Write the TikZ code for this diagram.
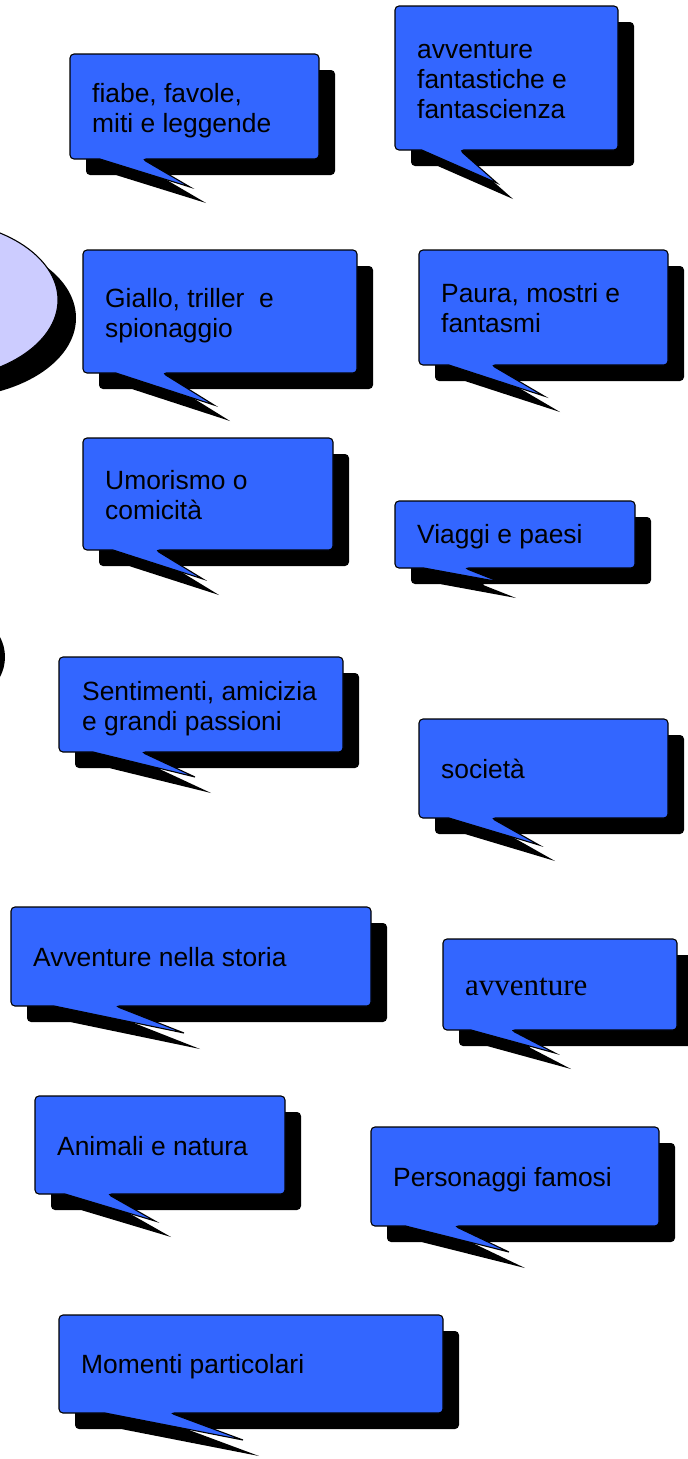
\documentclass[tikz,border=0pt]{standalone}
\usepackage{fontspec}
\setmainfont{Liberation Sans}
\newfontfamily\timesfont{Liberation Serif}
\usepackage{tikz}
\tikzset{>=latex}
\definecolor{bubbleblue}{RGB}{51,102,255}
\definecolor{cloudlilac}{RGB}{204,204,255}
\tikzset{
  bubbletext/.style={anchor=base west, align=left, inner sep=0pt,
    font=\fontsize{26.4}{30}\selectfont},
  bubbleline/.style={draw=black, line width=1.1pt, fill=bubbleblue},
}
% callout: x1 y1 x2 y2 tipx tipy
\newcommand{\bubble}[6]{%
  \pgfmathsetmacro{\tailL}{#1+0.12*(#3-#1)}%
  \pgfmathsetmacro{\tailR}{#1+0.29*(#3-#1)}%
  \fill[black, shift={(16,16)}] (#1,{(#2+#4)/2}) [rounded corners=4] -- (#1,#2) -- (#3,#2) -- (#3,#4)
    -- (\tailR,#4) [sharp corners] -- (#5,#6) -- (\tailL,#4) [rounded corners=4] -- (#1,#4) -- cycle;
  \path[bubbleline] (#1,{(#2+#4)/2}) [rounded corners=4] -- (#1,#2) -- (#3,#2) -- (#3,#4)
    -- (\tailR,#4) [sharp corners] -- (#5,#6) -- (\tailL,#4) [rounded corners=4] -- (#1,#4) -- cycle;
}

\begin{document}
\begin{tikzpicture}[x=1pt, y=-1pt]
  \useasboundingbox (0,0) rectangle (688,1459);
  \clip (0,0) rectangle (688,1459);

  % ovals cut by the left edge
  \fill[black] (-52,318) ellipse [x radius=128, y radius=80];
  \draw[line width=1.1pt, fill=cloudlilac] (-70,300) ellipse [x radius=128, y radius=80];
  \fill[black] (-60,657) ellipse [x radius=65, y radius=52];

  % base of a multi-line text = its last line
  \bubble{70}{54}{319}{159}{190}{187}
  \node[bubbletext] (fiabe) at (92,132) {fiabe, favole,\\miti e leggende};

  \bubble{395}{6}{618}{150}{497}{183}
  \node[bubbletext] (fantasy) at (417,118) {avventure\\fantastiche e\\fantascienza};

  \bubble{83}{250}{357}{373}{214}{405}
  \node[bubbletext] (giallo) at (105,337) {Giallo, triller~ e\\spionaggio};

  \bubble{419}{250}{668}{365}{544}{396}
  \node[bubbletext] (paura) at (441,332) {Paura, mostri e\\fantasmi};

  \bubble{83}{438}{333}{550}{203}{579}
  \node[bubbletext] (umorismo) at (105,519) {Umorismo o\\comicità};

  \bubble{395}{501}{635}{568}{500}{582}
  \node[bubbletext] (viaggi) at (417,543) {Viaggi e paesi};

  \bubble{59}{657}{343}{752}{195}{777}
  \node[bubbletext] (sentimenti) at (82,730) {Sentimenti, amicizia\\e grandi passioni};

  \bubble{419}{719}{668}{818}{539}{845}
  \node[bubbletext] (societa) at (441,778) {società};

  \bubble{11}{907}{371}{1006}{184}{1033}
  \node[bubbletext] (storia) at (33,966) {Avventure nella storia};

  \bubble{443}{939}{677}{1030}{555}{1053}
  \node[bubbletext, font=\timesfont\fontsize{31}{34}\selectfont] (avventure) at (465,995) {avventure};

  \bubble{35}{1096}{285}{1194}{155}{1221}
  \node[bubbletext] (animali) at (57,1155) {Animali e natura};

  \bubble{371}{1127}{659}{1226}{509}{1252}
  \node[bubbletext] (personaggi) at (393,1186) {Personaggi famosi};

  \bubble{59}{1315}{443}{1413}{243}{1440}
  \node[bubbletext] (momenti) at (81,1373) {Momenti particolari};
\end{tikzpicture}
\end{document}
